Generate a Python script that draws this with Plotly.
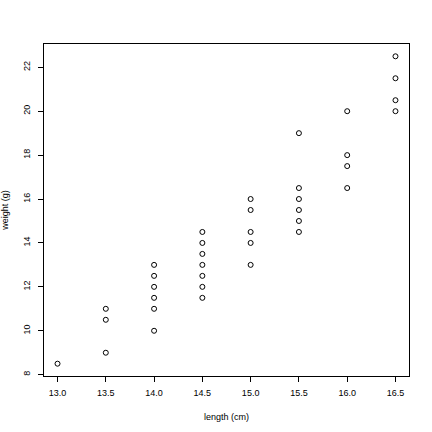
"""Scatter of fish weight against length, in the style of an R base plot."""
import plotly.graph_objects as go

# lengths (cm) and weights (g), grouped by length
length_cm = [13.0,
             13.5, 13.5, 13.5,
             14.0, 14.0, 14.0, 14.0, 14.0, 14.0,
             14.5, 14.5, 14.5, 14.5, 14.5, 14.5, 14.5,
             15.0, 15.0, 15.0, 15.0, 15.0,
             15.5, 15.5, 15.5, 15.5, 15.5, 15.5,
             16.0, 16.0, 16.0, 16.0,
             16.5, 16.5, 16.5, 16.5]
weight_g = [8.5,
            9.0, 10.5, 11.0,
            10.0, 11.0, 11.5, 12.0, 12.5, 13.0,
            11.5, 12.0, 12.5, 13.0, 13.5, 14.0, 14.5,
            13.0, 14.0, 14.5, 15.5, 16.0,
            14.5, 15.0, 15.5, 16.0, 16.5, 19.0,
            16.5, 17.5, 18.0, 20.0,
            20.0, 20.5, 21.5, 22.5]

x_ticks = [13.0, 13.5, 14.0, 14.5, 15.0, 15.5, 16.0, 16.5]
y_ticks = [8, 10, 12, 14, 16, 18, 20, 22]

font_family = "Liberation Sans, Arial, sans-serif"

fig = go.Figure()
fig.add_trace(go.Scatter(
    x=length_cm, y=weight_g, mode="markers",
    marker=dict(symbol="circle-open", size=5, color="black",
                line=dict(width=1, color="black")),
    showlegend=False
))

# R pads the data range by 4% on each side
x_pad = 0.04 * (max(length_cm) - min(length_cm))
y_pad = 0.04 * (max(weight_g) - min(weight_g))

axis_common = dict(
    showgrid=False, zeroline=False, automargin=False,
    showline=True, mirror=True, linecolor="black", linewidth=1,
    ticks="outside", ticklen=5, tickwidth=1, tickcolor="black",
    tickfont=dict(size=9, color="black", family=font_family),
)

fig.update_xaxes(
    range=[min(length_cm) - x_pad, max(length_cm) + x_pad],
    tickvals=x_ticks, ticktext=["%.1f" % v for v in x_ticks],
    ticklabelstandoff=3,
    title=dict(text="length (cm)", standoff=16,
               font=dict(size=9, color="black", family=font_family)),
    **axis_common
)
fig.update_yaxes(
    range=[min(weight_g) - y_pad, max(weight_g) + y_pad],
    tickvals=y_ticks, ticktext=[str(v) for v in y_ticks], tickangle=-90,
    ticklabelstandoff=4,
    title=dict(text="weight (g)", standoff=12,
               font=dict(size=9, color="black", family=font_family)),
    **axis_common
)

fig.update_layout(
    width=432, height=432,
    margin=dict(l=44, r=23, t=44, b=56),
    plot_bgcolor="white", paper_bgcolor="white",
    font=dict(family=font_family, size=9, color="black"),
)

# drop the default 8px body margin so the figure fills the window
fig.write_html("out.html", config={"displayModeBar": False},
               post_script="document.body.style.margin = '0';")
